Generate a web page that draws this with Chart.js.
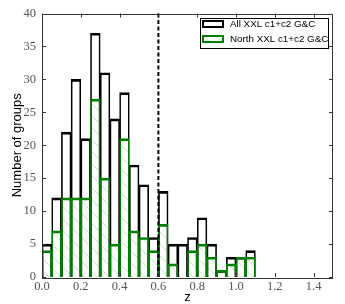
<!DOCTYPE html>
<html>
<head>
<meta charset="utf-8">
<script src="https://cdn.jsdelivr.net/npm/chart.js@4.4.0/dist/chart.umd.min.js"></script>
<style>
  html, body { margin: 0; padding: 0; background: #fff; }
  #wrap { width: 345px; height: 304px; }
</style>
</head>
<body>
<div id="wrap"><canvas id="zChart"></canvas></div>
<script>
// histogram bins (left edges), width 0.05
const binStarts = [
  0.00, 0.05, 0.10, 0.15, 0.20, 0.25, 0.30, 0.35, 0.40, 0.45,
  0.50, 0.55, 0.60, 0.65, 0.70, 0.75, 0.80, 0.85, 0.90, 0.95,
  1.00, 1.05, 1.10, 1.15, 1.20, 1.25, 1.30, 1.35, 1.40
];
const binWidth = 0.05;

const allCounts = [
  5, 12, 22, 30, 21, 37, 31, 24, 28, 17,
  14, 6, 13, 5, 5, 6, 9, 5, 1, 3,
  3, 4, 0, 0, 0, 0, 0, 0, 0
];
const northCounts = [
  4, 7, 12, 12, 12, 27, 15, 5, 21, 7,
  6, 4, 8, 2, 0, 4, 5, 3, 1, 2,
  3, 3, 0, 0, 0, 0, 0, 0, 0
];

const seriesNames = ['All XXL c1+c2 G&C', 'North XXL c1+c2 G&C'];
const zCut = 0.6;
const xTicks = [0.0, 0.2, 0.4, 0.6, 0.8, 1.0, 1.2, 1.4];
const yTicks = [0, 5, 10, 15, 20, 25, 30, 35, 40];

const GREEN = '#008000';
const tickFont = { family: '"Liberation Serif", "DejaVu Serif", serif', size: 12.5 };
const sansFont = '"Liberation Sans", Arial, sans-serif';

function makeHatch(color) {
  const n = 12;
  const c = document.createElement('canvas');
  c.width = n; c.height = n;
  const g = c.getContext('2d');
  g.strokeStyle = color;
  g.lineWidth = 1;
  g.beginPath();
  g.moveTo(0, 0); g.lineTo(n, n);
  g.moveTo(-2, n - 2); g.lineTo(2, n + 2);
  g.moveTo(n - 2, -2); g.lineTo(n + 2, 2);
  g.stroke();
  return g.createPattern(c, 'repeat');
}
const hatch = makeHatch('rgba(0, 150, 0, 0.25)');

function toPoints(counts) {
  return binStarts.map((s, i) => ({ x: s + binWidth / 2, y: counts[i] }));
}

// frame, inward ticks, dashed cut line, legend box
const decorations = {
  id: 'decorations',
  afterDatasetsDraw(chart) {
    const { ctx, chartArea: a, scales: { x, y } } = chart;
    ctx.save();

    // dashed line at z = 0.6
    const xc = x.getPixelForValue(zCut);
    ctx.strokeStyle = '#000';
    ctx.lineWidth = 2;
    ctx.setLineDash([4, 2.5]);
    ctx.beginPath();
    ctx.moveTo(xc, a.top);
    ctx.lineTo(xc, a.bottom);
    ctx.stroke();
    ctx.setLineDash([]);

    // frame
    ctx.strokeStyle = '#333';
    ctx.lineWidth = 1;
    ctx.strokeRect(Math.round(a.left) + 0.5, Math.round(a.top) + 0.5,
      Math.round(a.right - a.left) - 1, Math.round(a.bottom - a.top));

    // inward ticks on all four sides
    const tl = 4;
    ctx.beginPath();
    xTicks.forEach(v => {
      const px = Math.round(x.getPixelForValue(v)) + 0.5;
      ctx.moveTo(px, a.bottom); ctx.lineTo(px, a.bottom - tl);
      ctx.moveTo(px, a.top); ctx.lineTo(px, a.top + tl);
    });
    yTicks.forEach(v => {
      const py = Math.round(y.getPixelForValue(v)) + 0.5;
      ctx.moveTo(a.left, py); ctx.lineTo(a.left + tl, py);
      ctx.moveTo(a.right, py); ctx.lineTo(a.right - tl, py);
    });
    ctx.stroke();

    // legend
    const lx = 200.5, ly = 18.5, lw = 128, lh = 30;
    ctx.fillStyle = '#fff';
    ctx.fillRect(lx, ly, lw, lh);
    ctx.strokeStyle = '#000';
    ctx.lineWidth = 1;
    ctx.strokeRect(lx, ly, lw, lh);

    const rows = [
      { label: seriesNames[0], stroke: '#000', fill: '#fff', cy: 24 },
      { label: seriesNames[1], stroke: GREEN, fill: hatch, cy: 39 }
    ];
    ctx.font = '9.8px ' + sansFont;
    ctx.textBaseline = 'middle';
    rows.forEach(r => {
      ctx.fillStyle = r.fill;
      ctx.fillRect(203, r.cy - 3, 20, 6);
      ctx.strokeStyle = r.stroke;
      ctx.lineWidth = 2;
      ctx.strokeRect(203, r.cy - 3, 20, 6);
      ctx.fillStyle = '#000';
      ctx.fillText(r.label, 230, r.cy + 0.5);
    });

    ctx.restore();
  }
};

new Chart(document.getElementById('zChart'), {
  type: 'bar',
  data: {
    datasets: [
      {
        label: seriesNames[0],
        data: toPoints(allCounts),
        backgroundColor: 'rgba(255,255,255,0)',
        borderColor: '#000',
        borderWidth: { top: 2, left: 1, right: 1, bottom: 0 },
        borderSkipped: 'start',
        grouped: false,
        barPercentage: 1,
        categoryPercentage: 1,
        order: 1
      },
      {
        label: seriesNames[1],
        data: toPoints(northCounts),
        backgroundColor: hatch,
        borderColor: GREEN,
        borderWidth: { top: 2, left: 1, right: 1, bottom: 0 },
        borderSkipped: 'start',
        grouped: false,
        barPercentage: 1,
        categoryPercentage: 1,
        order: 0
      }
    ]
  },
  options: {
    responsive: true,
    maintainAspectRatio: false,
    animation: false,
    layout: { padding: { top: 13, right: 12, left: 0, bottom: 0 } },
    plugins: {
      legend: { display: false },
      tooltip: { enabled: false }
    },
    scales: {
      x: {
        type: 'linear',
        min: 0,
        max: 1.5,
        offset: false,
        grid: { display: false, drawTicks: false },
        border: { display: false },
        afterBuildTicks: s => { s.ticks = xTicks.map(v => ({ value: v })); },
        afterFit: s => { s.height = 27; },
        ticks: {
          color: '#555',
          font: tickFont,
          padding: 2,
          maxRotation: 0,
          callback: v => Number(v).toFixed(1)
        },
        title: {
          display: true,
          text: 'z',
          color: '#000',
          font: { family: sansFont, size: 13, lineHeight: 1 },
          padding: 0
        }
      },
      y: {
        min: 0,
        max: 40,
        grid: { display: false, drawTicks: false },
        border: { display: false },
        afterBuildTicks: s => { s.ticks = yTicks.map(v => ({ value: v })); },
        afterFit: s => { s.width = 42; },
        ticks: {
          color: '#555',
          font: tickFont,
          padding: 6
        },
        title: {
          display: true,
          text: 'Number of groups',
          color: '#000',
          font: { family: sansFont, size: 13, lineHeight: 1 },
          padding: { top: 11, bottom: 0 }
        }
      }
    }
  },
  plugins: [decorations]
});
</script>
</body>
</html>
